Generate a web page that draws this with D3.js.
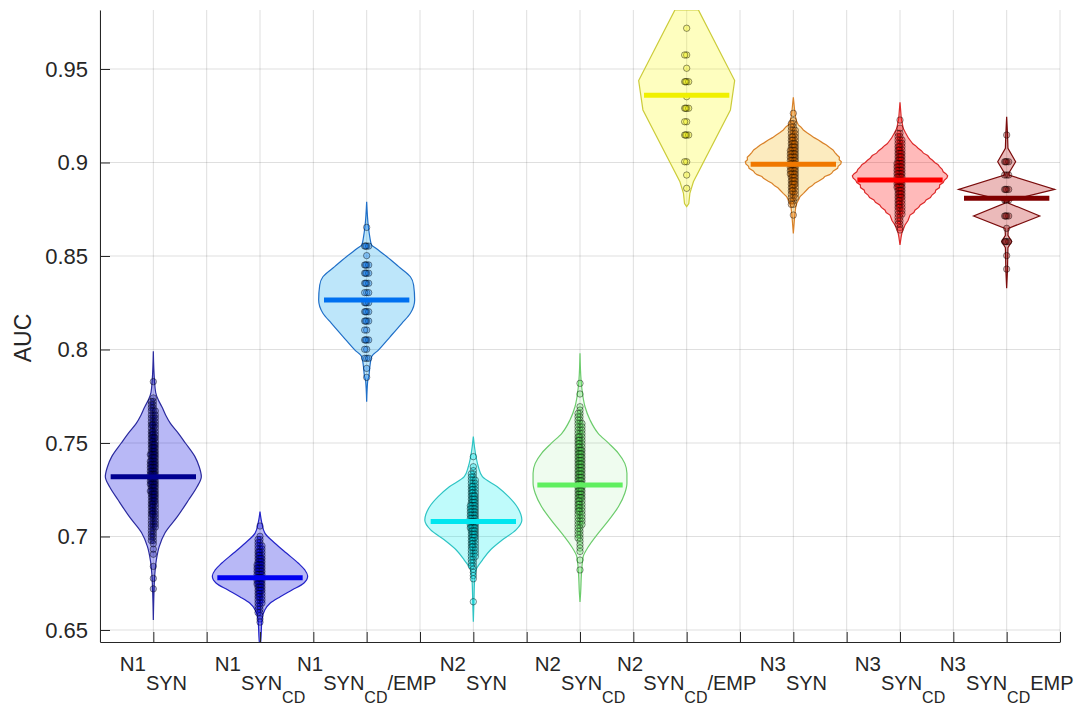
<!DOCTYPE html>
<html>
<head>
<meta charset="UTF-8">
<title>AUC violins</title>
<script src="https://d3js.org/d3.v7.min.js"></script>
<style>
  body { margin: 0; background: #fff; font-family: "Liberation Sans", Arial, Helvetica, sans-serif; }
  svg { display: block; }
</style>
</head>
<body>
<svg width="1077" height="704"></svg>
<script>
// --- values ---

// tick label pieces: [text, level] (0 = normal, 1 = subscript, 2 = sub-subscript)
const labelParts = [
  [["N1", 0], ["SYN", 1]],
  [["N1", 0], ["SYN", 1], ["CD", 2]],
  [["N1", 0], ["SYN", 1], ["CD", 2], ["/EMP", 1]],
  [["N2", 0], ["SYN", 1]],
  [["N2", 0], ["SYN", 1], ["CD", 2]],
  [["N2", 0], ["SYN", 1], ["CD", 2], ["/EMP", 1]],
  [["N3", 0], ["SYN", 1]],
  [["N3", 0], ["SYN", 1], ["CD", 2]],
  [["N3", 0], ["SYN", 1], ["CD", 2], ["EMP", 1]]
];

const medians = [0.732, 0.678, 0.8265, 0.708, 0.7275, 0.936, 0.899, 0.8906, 0.8809];

// violin outlines: [AUC, half width in category units]
const shapeN1Syn = [[0.6553,0],[0.6700,0.006],[0.6800,0.014],[0.6874,0.028],[0.6946,0.055],[0.7020,0.11],[0.7106,0.225],[0.7195,0.33],[0.7266,0.41],[0.7320,0.45],[0.7373,0.43],[0.7427,0.39],[0.7500,0.30],[0.7552,0.235],[0.7605,0.16],[0.7650,0.115],[0.7694,0.08],[0.7730,0.047],[0.7770,0.022],[0.7840,0.01],[0.7990,0]];
const shapeN1SynCD = [[0.6400,0],[0.6447,0.008],[0.6553,0.018],[0.6607,0.045],[0.6643,0.094],[0.6678,0.19],[0.6714,0.30],[0.6750,0.41],[0.6789,0.447],[0.6821,0.42],[0.6857,0.36],[0.6910,0.25],[0.6964,0.14],[0.7017,0.047],[0.7070,0.018],[0.7133,0]];
const shapeN1SynCDEmp = [[0.7720,0],[0.7834,0.01],[0.7855,0.02],[0.7908,0.03],[0.7962,0.047],[0.7997,0.11],[0.8068,0.22],[0.8140,0.33],[0.8194,0.41],[0.8265,0.45],[0.8345,0.44],[0.8389,0.41],[0.8443,0.30],[0.8496,0.19],[0.8540,0.09],[0.8560,0.045],[0.8600,0.03],[0.8657,0.016],[0.8790,0]];
const shapeN2Syn = [[0.6544,0],[0.6660,0.006],[0.6767,0.012],[0.6821,0.025],[0.6874,0.085],[0.6928,0.16],[0.6981,0.27],[0.7035,0.40],[0.7088,0.455],[0.7159,0.41],[0.7213,0.33],[0.7266,0.225],[0.7320,0.085],[0.7373,0.047],[0.7427,0.025],[0.7534,0]];
const shapeN2SynCD = [[0.6650,0],[0.6700,0.006],[0.6803,0.014],[0.6892,0.03],[0.6945,0.078],[0.7017,0.17],[0.7088,0.27],[0.7159,0.36],[0.7231,0.42],[0.7285,0.44],[0.7338,0.44],[0.7391,0.42],[0.7445,0.36],[0.7498,0.27],[0.7552,0.17],[0.7623,0.094],[0.7694,0.047],[0.7766,0.023],[0.7837,0.01],[0.7980,0]];
const shapeN2SynCDEmp = [[0.8764,0],[0.8780,0.02],[0.8835,0.03],[0.8897,0.063],[0.9281,0.41],[0.9438,0.45],[0.9816,0.11]];
const shapeN3Syn = [[0.8621,0],[0.8680,0.008],[0.8728,0.015],[0.8760,0.022],[0.8782,0.032],[0.8800,0.048],[0.8818,0.063],[0.8835,0.095],[0.8853,0.125],[0.8865,0.145],[0.8875,0.175],[0.8889,0.20],[0.8900,0.235],[0.8916,0.28],[0.8925,0.295],[0.8935,0.34],[0.8943,0.36],[0.8955,0.375],[0.8969,0.415],[0.8980,0.42],[0.8992,0.445],[0.9004,0.45],[0.9015,0.43],[0.9028,0.432],[0.9040,0.41],[0.9053,0.39],[0.9067,0.372],[0.9080,0.34],[0.9094,0.31],[0.9105,0.275],[0.9120,0.235],[0.9133,0.195],[0.9147,0.16],[0.9160,0.125],[0.9174,0.094],[0.9190,0.07],[0.9201,0.047],[0.9222,0.03],[0.9245,0.02],[0.9281,0.012],[0.9348,0]];
const shapeN3SynCD = [[0.8559,0],[0.8600,0.01],[0.8630,0.02],[0.8648,0.035],[0.8666,0.047],[0.8690,0.075],[0.8719,0.094],[0.8732,0.13],[0.8745,0.14],[0.8760,0.175],[0.8773,0.19],[0.8787,0.23],[0.8800,0.245],[0.8813,0.285],[0.8826,0.30],[0.8840,0.33],[0.8852,0.335],[0.8866,0.37],[0.8880,0.372],[0.8893,0.405],[0.8905,0.415],[0.8917,0.44],[0.8929,0.447],[0.8940,0.43],[0.8950,0.405],[0.8964,0.395],[0.8978,0.37],[0.8990,0.355],[0.9000,0.325],[0.9012,0.305],[0.9023,0.28],[0.9037,0.26],[0.9050,0.22],[0.9063,0.2],[0.9076,0.17],[0.9090,0.145],[0.9100,0.12],[0.9115,0.1],[0.9130,0.08],[0.9160,0.05],[0.9183,0.03],[0.9236,0.012],[0.9322,0]];
const shapeN3SynCDEmp = [[0.8327,0],[0.8430,0.008],[0.8500,0.01],[0.8545,0.012],[0.8577,0.047],[0.8610,0.012],[0.8648,0.015],[0.8714,0.31],[0.8782,0.02],[0.8796,0.02],[0.8856,0.45],[0.8933,0.02],[0.8943,0.02],[0.9004,0.084],[0.9076,0.012],[0.9150,0.008],[0.9245,0]];

// individual runs: [AUC, number of runs with that AUC]
const ptsN1Syn = [[0.7828,1],[0.7741,1],[0.7722,2],[0.7705,2],[0.7688,2],[0.7671,3],[0.7650,3],[0.7633,3],[0.7614,3],[0.7597,4],[0.7580,3],[0.7561,4],[0.7544,4],[0.7527,5],[0.7508,4],[0.7491,5],[0.7474,5],[0.7455,5],[0.7438,6],[0.7421,5],[0.7402,6],[0.7385,6],[0.7368,6],[0.7349,6],[0.7332,6],[0.7315,6],[0.7296,6],[0.7279,6],[0.7262,5],[0.7243,6],[0.7226,5],[0.7209,5],[0.7190,5],[0.7173,4],[0.7156,4],[0.7137,4],[0.7120,4],[0.7103,3],[0.7084,3],[0.7067,3],[0.7050,3],[0.7031,2],[0.7014,2],[0.6997,2],[0.6978,2],[0.6961,1],[0.6932,1],[0.6905,1],[0.6840,1],[0.6776,1],[0.6720,1]];
const ptsN1SynCD = [[0.7056,1],[0.7001,1],[0.6984,2],[0.6967,2],[0.6950,3],[0.6933,3],[0.6916,4],[0.6899,4],[0.6882,5],[0.6865,5],[0.6848,6],[0.6831,6],[0.6814,6],[0.6797,6],[0.6780,6],[0.6763,6],[0.6746,6],[0.6729,5],[0.6712,5],[0.6695,4],[0.6678,4],[0.6661,3],[0.6644,3],[0.6627,2],[0.6610,2],[0.6593,2],[0.6576,1],[0.6559,1],[0.6542,1]];
const ptsN1SynCDEmp = [[0.8653,1],[0.8553,4],[0.8502,1],[0.8452,4],[0.8408,4],[0.8354,4],[0.8304,3],[0.8250,4],[0.8202,4],[0.8152,4],[0.8104,2],[0.8051,4],[0.8001,2],[0.7953,3],[0.7899,1],[0.7851,1]];
const ptsN2Syn = [[0.7427,1],[0.7373,1],[0.7352,1],[0.7335,2],[0.7318,2],[0.7301,3],[0.7284,3],[0.7267,4],[0.7250,4],[0.7233,4],[0.7216,5],[0.7199,5],[0.7182,5],[0.7165,6],[0.7148,6],[0.7131,6],[0.7114,6],[0.7097,6],[0.7080,6],[0.7063,6],[0.7046,6],[0.7029,5],[0.7012,5],[0.6995,5],[0.6978,4],[0.6961,4],[0.6944,4],[0.6927,3],[0.6910,3],[0.6893,3],[0.6876,2],[0.6859,2],[0.6842,2],[0.6825,1],[0.6808,1],[0.6791,1],[0.6774,1],[0.6651,1]];
const ptsN2SynCD = [[0.7819,1],[0.7762,1],[0.7694,1],[0.7676,1],[0.7658,2],[0.7640,2],[0.7622,2],[0.7604,3],[0.7586,3],[0.7568,3],[0.7550,3],[0.7532,4],[0.7514,4],[0.7496,4],[0.7478,4],[0.7460,5],[0.7442,5],[0.7424,5],[0.7406,5],[0.7388,5],[0.7370,5],[0.7352,5],[0.7334,5],[0.7316,5],[0.7298,5],[0.7280,5],[0.7262,5],[0.7244,5],[0.7226,5],[0.7208,5],[0.7190,4],[0.7172,4],[0.7154,4],[0.7136,4],[0.7118,3],[0.7100,3],[0.7082,3],[0.7064,3],[0.7046,2],[0.7028,2],[0.7010,2],[0.6992,2],[0.6974,1],[0.6956,1],[0.6938,1],[0.6920,1],[0.6874,1],[0.6821,1]];
const ptsN2SynCDEmp = [[0.9718,1],[0.9575,2],[0.9504,1],[0.9432,4],[0.9352,1],[0.9290,4],[0.9218,2],[0.9147,4],[0.9004,2],[0.8933,1],[0.8862,1]];
const ptsN3Syn = [[0.9263,1],[0.9224,1],[0.9208,2],[0.9190,2],[0.9172,3],[0.9154,3],[0.9136,4],[0.9118,4],[0.9100,5],[0.9082,5],[0.9064,6],[0.9046,6],[0.9028,6],[0.9010,6],[0.8992,6],[0.8974,6],[0.8956,6],[0.8938,6],[0.8920,5],[0.8902,5],[0.8884,5],[0.8866,4],[0.8848,4],[0.8830,3],[0.8812,3],[0.8794,2],[0.8776,2],[0.8719,1]];
const ptsN3SynCD = [[0.9227,1],[0.9183,1],[0.9156,2],[0.9138,2],[0.9120,3],[0.9102,3],[0.9084,4],[0.9066,4],[0.9048,5],[0.9030,5],[0.9012,5],[0.8994,6],[0.8976,6],[0.8958,6],[0.8940,6],[0.8922,6],[0.8904,6],[0.8886,6],[0.8868,6],[0.8850,5],[0.8832,5],[0.8814,5],[0.8796,4],[0.8778,4],[0.8760,4],[0.8742,3],[0.8724,3],[0.8706,2],[0.8688,2],[0.8670,2],[0.8652,1],[0.8639,1]];
const ptsN3SynCDEmp = [[0.9147,1],[0.9004,4],[0.8933,3],[0.8856,4],[0.8799,4],[0.8714,4],[0.8648,1],[0.8577,4],[0.8502,1],[0.8430,1]];

const yTicks = [0.65, 0.7, 0.75, 0.8, 0.85, 0.9, 0.95];
const xTicks = [0.5, 1, 1.5, 2, 2.5, 3, 3.5, 4, 4.5, 5, 5.5, 6, 6.5, 7, 7.5, 8, 8.5, 9, 9.5];

const fillColors = ["#0000e0", "#0000e0", "#009fec", "#00eeee", "#64e664", "#fafa00", "#f5af00", "#ff0000", "#b40000"];
const fillAlpha  = [0.28, 0.28, 0.26, 0.25, 0.1, 0.25, 0.25, 0.27, 0.27];
const edgeColors = ["#2a2a9e", "#2323c8", "#1f6fc8", "#2ec4c4", "#6ccc6c", "#cccc3a", "#d9822a", "#dc2a2a", "#7a0c0c"];
const medianColors = ["#000090", "#0000f0", "#0070f0", "#00e6ef", "#60ef60", "#f0f000", "#f07800", "#ff0000", "#800000"];

const shapes = [shapeN1Syn, shapeN1SynCD, shapeN1SynCDEmp, shapeN2Syn, shapeN2SynCD, shapeN2SynCDEmp, shapeN3Syn, shapeN3SynCD, shapeN3SynCDEmp];
const points = [ptsN1Syn, ptsN1SynCD, ptsN1SynCDEmp, ptsN2Syn, ptsN2SynCD, ptsN2SynCDEmp, ptsN3Syn, ptsN3SynCD, ptsN3SynCDEmp];
const smooth = [true, true, true, true, true, false, false, false, false];

// --- layout ---
const plotL = 100, plotR = 1060, plotT = 10, plotB = 642;
const svg = d3.select("svg");
const ink = "#262626";

const x = d3.scaleLinear().domain([0.5, 9.5]).range([plotL, plotR]);
const y = d3.scaleLinear().domain([0.64358, 0.98155]).range([plotB, plotT]);

svg.append("defs").append("clipPath").attr("id", "plotclip")
  .append("rect").attr("x", plotL).attr("y", plotT).attr("width", plotR - plotL).attr("height", plotB - plotT);

// grid
const grid = svg.append("g").attr("stroke", ink).attr("stroke-opacity", 0.15).attr("stroke-width", 1);
grid.selectAll(".gx").data(xTicks).enter().append("line")
  .attr("x1", d => x(d)).attr("x2", d => x(d)).attr("y1", plotT).attr("y2", plotB);
grid.selectAll(".gy").data(yTicks).enter().append("line")
  .attr("x1", plotL).attr("x2", plotR).attr("y1", d => y(d)).attr("y2", d => y(d));

const plot = svg.append("g").attr("clip-path", "url(#plotclip)");

// violins
shapes.forEach(function(shape, i) {
  const c = i + 1;
  const area = d3.area()
    .y(d => y(d[0]))
    .x0(d => x(c - d[1]))
    .x1(d => x(c + d[1]))
    .curve(smooth[i] ? d3.curveMonotoneY : d3.curveLinear);
  plot.append("path")
    .attr("d", area(shape))
    .attr("fill", fillColors[i])
    .attr("fill-opacity", fillAlpha[i])
    .attr("stroke", edgeColors[i])
    .attr("stroke-width", 1.2);
});

// points: one circle per run, runs with the same AUC spread a little sideways
const spread = [0, -2, 2, -1, 1, -3, 3];
points.forEach(function(pts, i) {
  const c = i + 1;
  const runs = [];
  pts.forEach(function(p) {
    for (let k = 0; k < p[1]; k++) runs.push({ v: p[0], k: k });
  });
  plot.append("g").selectAll("circle").data(runs).enter().append("circle")
    .attr("cx", d => x(c) + spread[d.k % spread.length])
    .attr("cy", d => y(d.v))
    .attr("r", 3.2)
    .attr("fill", medianColors[i])
    .attr("fill-opacity", 0.3)
    .attr("stroke", "#000")
    .attr("stroke-opacity", 0.42)
    .attr("stroke-width", 1);
});

// median bars
plot.append("g").selectAll("line").data(medians).enter().append("line")
  .attr("x1", (d, i) => x(i + 1 - 0.4))
  .attr("x2", (d, i) => x(i + 1 + 0.4))
  .attr("y1", d => y(d)).attr("y2", d => y(d))
  .attr("stroke", (d, i) => medianColors[i])
  .attr("stroke-width", 5);

// axes
const gx = svg.append("g").attr("transform", "translate(0," + plotB + ")")
  .call(d3.axisBottom(x).tickValues(xTicks).tickSize(-10).tickSizeOuter(0).tickFormat(""));
const gy = svg.append("g").attr("transform", "translate(" + plotL + ",0)")
  .call(d3.axisLeft(y).tickValues(yTicks).tickSize(-10).tickSizeOuter(0).tickPadding(12).tickFormat(d3.format("~g")));
[gx, gy].forEach(function(g) {
  g.select(".domain").attr("stroke", ink);
  g.selectAll(".tick line").attr("stroke", ink);
});
gy.selectAll(".tick text")
  .attr("fill", ink)
  .style("font-family", "'Liberation Sans', Arial, sans-serif")
  .style("font-size", "22px");

// category labels with subscripts
const levelOffset = [0, 19, 31.5];
const levelSize = [20.5, 20, 16];
labelParts.forEach(function(parts, i) {
  const t = svg.append("text")
    .attr("x", x(i + 1))
    .attr("y", 671)
    .attr("text-anchor", "middle")
    .attr("fill", ink)
    .style("font-size", "20.5px");
  let prev = 0;
  parts.forEach(function(p) {
    t.append("tspan")
      .attr("dy", levelOffset[p[1]] - levelOffset[prev])
      .style("font-size", levelSize[p[1]] + "px")
      .text(p[0]);
    prev = p[1];
  });
});

svg.append("text")
  .attr("transform", "translate(31,338) rotate(-90)")
  .attr("text-anchor", "middle")
  .attr("fill", ink)
  .style("font-size", "23px")
  .text("AUC");
</script>
</body>
</html>
